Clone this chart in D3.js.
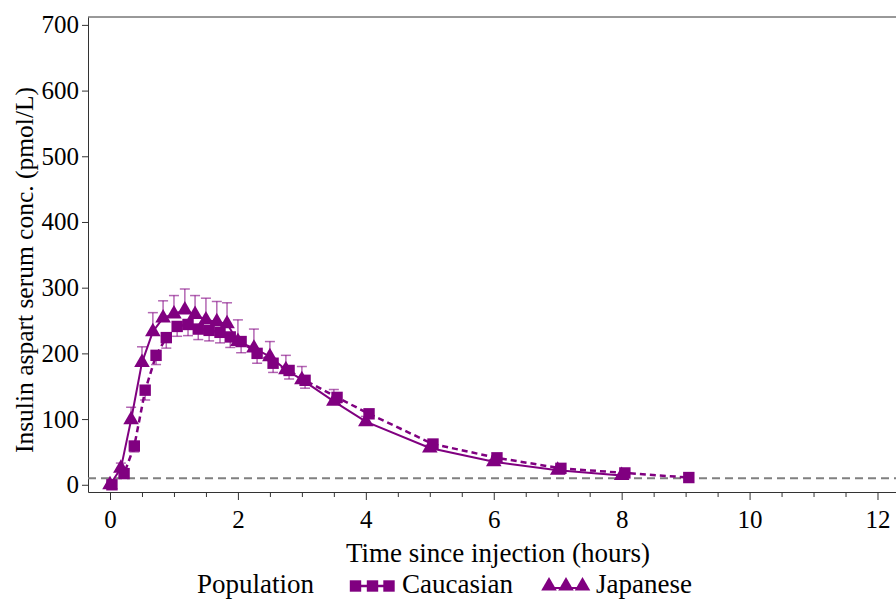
<!DOCTYPE html>
<html>
<head>
<meta charset="utf-8">
<title>Insulin aspart serum concentration</title>
<script src="https://cdn.jsdelivr.net/npm/d3@7"></script>
<style>
  body { margin: 0; background: #fff; }
  text { font-family: "Liberation Serif", "Times New Roman", serif; fill: #000; }
</style>
</head>
<body>
<div id="chart"></div>
<script>
// mean profiles (pmol/L), error bars = mean +/- SD
var japTime  = [0, 0.17, 0.33, 0.5, 0.67, 0.83, 1, 1.17, 1.33, 1.5, 1.67, 1.83, 2, 2.25, 2.5, 2.75, 3, 3.5, 4, 5, 6, 7, 8];
var japMean  = [0, 25, 99, 186, 233, 254, 260, 266, 259, 251, 248, 245, 218, 208, 195, 175, 160, 127, 96, 56, 35, 22, 14];
var japUpper = [0, 33, 118, 210, 262, 280, 288, 298, 288, 284, 279, 277, 251, 237, 218, 197, 180, 145, 104, 60, 38, 24, 15];

var cauTime  = [0.03, 0.22, 0.38, 0.55, 0.72, 0.88, 1.05, 1.22, 1.38, 1.55, 1.72, 1.88, 2.05, 2.3, 2.55, 2.8, 3.05, 3.55, 4.05, 5.05, 6.05, 7.05, 8.05, 9.05];
var cauMean  = [0, 17, 59, 144, 197, 224, 241, 244, 237, 235, 232, 225, 218, 200, 185, 174, 159, 133, 108, 62, 41, 25, 18, 11];
var cauLower = [0, 12, 50, 129, 183, 208, 226, 227, 221, 219, 216, 209, 201, 185, 171, 161, 147, 125, 102, 58, 38, 23, 16, 10];

var lloq = 10;
var xTicks = [0, 2, 4, 6, 8, 10, 12];
var yTicks = [0, 100, 200, 300, 400, 500, 600, 700];
var groups = ["Caucasian", "Japanese"];

var purple = "#800080";

var W = 896, H = 599;
var svg = d3.select("#chart").append("svg")
    .attr("width", W)
    .attr("height", H);

var x = d3.scaleLinear().domain([-0.344, 12.344]).range([88, 899.5]);
var y = d3.scaleLinear().domain([-11, 712]).range([492, 17]);

var jap = japTime.map(function(t, i) { return {t: t, c: japMean[i], e: japUpper[i]}; });
var cau = cauTime.map(function(t, i) { return {t: t, c: cauMean[i], e: cauLower[i]}; });

// frame
svg.append("line")
    .attr("x1", x.range()[0]).attr("x2", x.range()[1])
    .attr("y1", y.range()[1]).attr("y2", y.range()[1])
    .attr("stroke", "#333").attr("stroke-width", 1);

// minor x ticks every half hour
var minor = d3.range(0, 12.01, 0.5).filter(function(v) { return v % 2 !== 0; });
svg.append("g")
    .attr("transform", "translate(0," + y.range()[0] + ")")
    .call(d3.axisBottom(x).tickValues(minor).tickSize(5).tickSizeOuter(0).tickFormat(""))
    .call(function(g) { g.select(".domain").remove(); })
    .selectAll("line").attr("stroke", "#333");

var xAxis = svg.append("g")
    .attr("transform", "translate(0," + y.range()[0] + ")")
    .call(d3.axisBottom(x).tickValues(xTicks).tickSize(8).tickSizeOuter(0).tickPadding(10));
xAxis.selectAll("text").style("font-size", "25px").attr("fill", "#000");
xAxis.selectAll("line, path").attr("stroke", "#333");

var yAxis = svg.append("g")
    .attr("transform", "translate(" + x.range()[0] + ",0)")
    .call(d3.axisLeft(y).tickValues(yTicks).tickSize(6).tickSizeOuter(0).tickPadding(3));
yAxis.selectAll("text").style("font-size", "25px").attr("fill", "#000");
yAxis.selectAll("line, path").attr("stroke", "#333");

// axis titles
svg.append("text")
    .attr("x", 498).attr("y", 562)
    .attr("text-anchor", "middle")
    .style("font-size", "27px")
    .text("Time since injection (hours)");

svg.append("text")
    .attr("transform", "translate(33,270) rotate(-90)")
    .attr("text-anchor", "middle")
    .style("font-size", "25.5px")
    .text("Insulin aspart serum conc. (pmol/L)");

var plot = svg.append("g");

// LLOQ reference line
plot.append("line")
    .attr("x1", x.range()[0]).attr("x2", x.range()[1])
    .attr("y1", y(lloq)).attr("y2", y(lloq))
    .attr("stroke", "#808080").attr("stroke-width", 2)
    .attr("stroke-dasharray", "8,5");

// error bars: Japanese upward, Caucasian downward
function bars(data) {
  var g = plot.append("g")
      .attr("stroke", purple).attr("stroke-opacity", 0.6).attr("stroke-width", 1.5);
  g.selectAll(".v").data(data).enter().append("line")
      .attr("x1", function(d) { return x(d.t); }).attr("x2", function(d) { return x(d.t); })
      .attr("y1", function(d) { return y(d.c); }).attr("y2", function(d) { return y(d.e); });
  g.selectAll(".cap").data(data).enter().append("line")
      .attr("x1", function(d) { return x(d.t) - 5; }).attr("x2", function(d) { return x(d.t) + 5; })
      .attr("y1", function(d) { return y(d.e); }).attr("y2", function(d) { return y(d.e); });
}
bars(jap);
bars(cau);

var line = d3.line()
    .x(function(d) { return x(d.t); })
    .y(function(d) { return y(d.c); });

plot.append("path").datum(jap)
    .attr("fill", "none").attr("stroke", purple).attr("stroke-width", 2)
    .attr("d", line);

plot.append("path").datum(cau)
    .attr("fill", "none").attr("stroke", purple).attr("stroke-width", 2.5)
    .attr("stroke-dasharray", "6,4")
    .attr("d", line);

var tri = d3.symbol().type(d3.symbolTriangle).size(105);
var sq = d3.symbol().type(d3.symbolSquare).size(130);

plot.selectAll(".jap").data(jap).enter().append("path")
    .attr("class", "jap")
    .attr("transform", function(d) { return "translate(" + x(d.t) + "," + y(d.c) + ")"; })
    .attr("d", tri).attr("fill", purple);

plot.selectAll(".cau").data(cau).enter().append("path")
    .attr("class", "cau")
    .attr("transform", function(d) { return "translate(" + x(d.t) + "," + y(d.c) + ")"; })
    .attr("d", sq).attr("fill", purple);

// legend
var leg = svg.append("g").style("font-size", "27px");
leg.append("text").attr("x", 197).attr("y", 593).text("Population");

var legY = 586;
var cx = [355.5, 372.5, 389];
leg.append("line")
    .attr("x1", cx[0]).attr("x2", cx[2]).attr("y1", legY).attr("y2", legY)
    .attr("stroke", purple).attr("stroke-width", 2.5);
leg.selectAll(".lsq").data(cx).enter().append("path")
    .attr("transform", function(d) { return "translate(" + d + "," + legY + ")"; })
    .attr("d", sq).attr("fill", purple);
leg.append("text").attr("x", 402).attr("y", 593).text(groups[0]);

var tx = [549, 566, 582.5];
leg.append("line")
    .attr("x1", tx[0]).attr("x2", tx[2]).attr("y1", legY + 2).attr("y2", legY + 2)
    .attr("stroke", purple).attr("stroke-width", 2);
leg.selectAll(".ltri").data(tx).enter().append("path")
    .attr("transform", function(d) { return "translate(" + d + "," + legY + ")"; })
    .attr("d", tri).attr("fill", purple);
leg.append("text").attr("x", 596).attr("y", 593).text(groups[1]);
</script>
</body>
</html>
